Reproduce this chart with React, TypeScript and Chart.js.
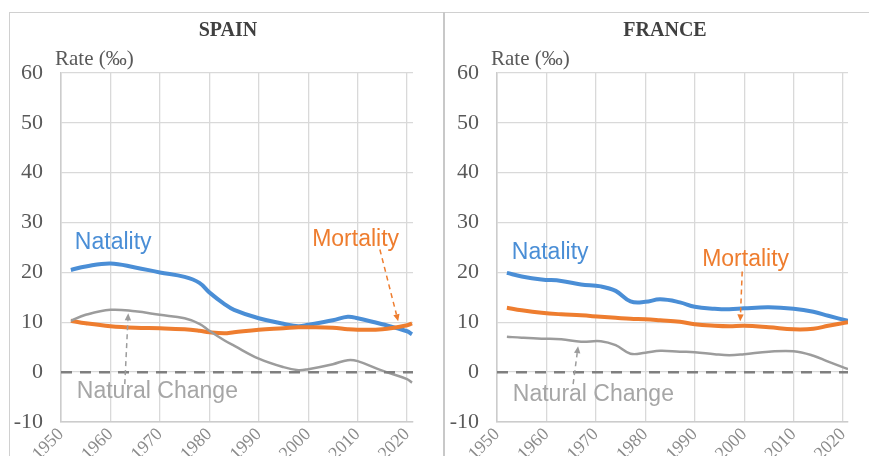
import React, { useEffect, useRef } from 'react';
import { Chart, registerables } from 'chart.js';

Chart.register(...registerables);

// ---------- DATA ----------
const xTickYears = [1950, 1960, 1970, 1980, 1990, 2000, 2010, 2020];
const yTickValues = [-10, 0, 10, 20, 30, 40, 50, 60];

const spainYears = [1952, 1955, 1960, 1965, 1970, 1975, 1978, 1980, 1983, 1985, 1990, 1995, 1998, 2000, 2005, 2008, 2010, 2015, 2020, 2021];
const spainNatality = [20.5, 21.2, 21.8, 21.0, 20.0, 19.1, 17.9, 16.0, 13.7, 12.5, 10.8, 9.7, 9.2, 9.5, 10.4, 11.1, 10.8, 9.6, 8.2, 7.6];
const spainMortality = [10.3, 9.8, 9.2, 8.9, 8.8, 8.6, 8.3, 8.0, 7.8, 8.0, 8.5, 8.8, 9.0, 9.0, 8.9, 8.6, 8.5, 8.6, 9.4, 9.8];
const spainNaturalChange = [10.3, 11.5, 12.5, 12.2, 11.5, 10.8, 9.7, 8.3, 6.4, 5.3, 2.7, 1.0, 0.4, 0.6, 1.6, 2.4, 2.2, 0.3, -1.4, -2.1];

const franceYears = [1952, 1955, 1959, 1963, 1967, 1971, 1974, 1977, 1980, 1983, 1987, 1990, 1994, 1997, 2000, 2005, 2010, 2014, 2017, 2021];
const franceNatality = [19.9, 19.2, 18.6, 18.3, 17.6, 17.2, 16.3, 14.2, 14.1, 14.6, 14.0, 13.1, 12.7, 12.6, 12.8, 13.0, 12.7, 12.1, 11.3, 10.3];
const franceMortality = [12.9, 12.4, 11.9, 11.6, 11.4, 11.1, 10.9, 10.7, 10.6, 10.4, 10.1, 9.6, 9.3, 9.2, 9.3, 9.0, 8.6, 8.7, 9.3, 10.0];
const franceNaturalChange = [7.1, 6.9, 6.7, 6.6, 6.1, 6.2, 5.4, 3.7, 3.9, 4.3, 4.1, 4.0, 3.6, 3.4, 3.6, 4.1, 4.2, 3.3, 2.1, 0.6];

const seriesNames = ['Natality', 'Mortality', 'Natural Change'];

// ---------- STYLE ----------
const BLUE = '#4a8ed6';
const ORANGE = '#ee7d2f';
const GRAY = '#9c9c9c';
const GRAY_TEXT = '#a6a6a6';
const SERIF = '"Liberation Serif", "Times New Roman", serif';
const SANS = '"Liberation Sans", Arial, sans-serif';

type Label = { text: string; x: number; y: number; color: string };
type Arrow = { from: [number, number]; to: [number, number]; color: string };

const decorPlugin = {
  id: 'panelDecor',
  afterDatasetsDraw(chart: any, _args: any, opts: any) {
    const { ctx, chartArea } = chart;
    const xs = chart.scales.x;
    const ys = chart.scales.y;
    ctx.save();
    // title
    ctx.font = `bold 20px ${SERIF}`;
    ctx.fillStyle = '#404040';
    ctx.textAlign = 'center';
    ctx.textBaseline = 'alphabetic';
    ctx.fillText(opts.title, opts.titleX, 23);
    // axis caption
    ctx.font = `21px ${SERIF}`;
    ctx.fillStyle = '#595959';
    ctx.textAlign = 'left';
    ctx.fillText('Rate (\u2030)', chartArea.left - 6, 52);
    // arrows
    (opts.arrows as Arrow[]).forEach((a) => {
      const x1 = xs.getPixelForValue(a.from[0]);
      const y1 = ys.getPixelForValue(a.from[1]);
      const x2 = xs.getPixelForValue(a.to[0]);
      const y2 = ys.getPixelForValue(a.to[1]);
      const ang = Math.atan2(y2 - y1, x2 - x1);
      const L = 7;
      const W = 3.2;
      const c = Math.cos(ang);
      const s = Math.sin(ang);
      ctx.strokeStyle = a.color;
      ctx.lineWidth = 1.5;
      ctx.setLineDash([5, 4]);
      ctx.beginPath();
      ctx.moveTo(x1, y1);
      ctx.lineTo(x2 - L * c, y2 - L * s);
      ctx.stroke();
      ctx.setLineDash([]);
      ctx.fillStyle = a.color;
      ctx.beginPath();
      ctx.moveTo(x2, y2);
      ctx.lineTo(x2 - L * c + W * s, y2 - L * s - W * c);
      ctx.lineTo(x2 - L * c - W * s, y2 - L * s + W * c);
      ctx.closePath();
      ctx.fill();
    });
    // labels
    ctx.font = `23px ${SANS}`;
    ctx.textAlign = 'left';
    ctx.textBaseline = 'middle';
    (opts.labels as Label[]).forEach((l) => {
      ctx.fillStyle = l.color;
      ctx.fillText(l.text, xs.getPixelForValue(l.x), ys.getPixelForValue(l.y));
    });
    ctx.restore();
  },
};

type PanelProps = {
  title: string;
  titleX: number;
  years: number[];
  natality: number[];
  mortality: number[];
  natural: number[];
  xMax: number;
  left: number;
  width: number;
  padRight: number;
  labels: Label[];
  arrows: Arrow[];
};

function Panel(p: PanelProps) {
  const ref = useRef<HTMLCanvasElement>(null);
  useEffect(() => {
    if (!ref.current) return;
    const toPts = (arr: number[]) => arr.map((v, i) => ({ x: p.years[i], y: v }));
    const lineDs = (label: string, data: number[], color: string, w: number) => ({
      label,
      data: toPts(data),
      borderColor: color,
      backgroundColor: color,
      borderWidth: w,
      pointRadius: 0,
      tension: 0.4,
      fill: false,
    });
    const chart = new Chart(ref.current, {
      type: 'line',
      data: {
        datasets: [
          {
            label: 'zero',
            data: [{ x: xTickYears[0], y: 0 }, { x: p.xMax, y: 0 }],
            borderColor: '#7f7f7f',
            borderWidth: 2.5,
            borderDash: [11, 8],
            pointRadius: 0,
            fill: false,
          },
          lineDs(seriesNames[2], p.natural, GRAY, 2.5),
          lineDs(seriesNames[1], p.mortality, ORANGE, 4),
          lineDs(seriesNames[0], p.natality, BLUE, 4),
        ],
      },
      options: {
        responsive: false,
        animation: false,
        events: [],
        layout: { padding: { top: 60, right: p.padRight, bottom: 0, left: 0 } },
        plugins: {
          legend: { display: false },
          tooltip: { enabled: false },
          title: { display: false },
          panelDecor: { title: p.title, titleX: p.titleX, labels: p.labels, arrows: p.arrows },
        } as any,
        scales: {
          x: {
            type: 'linear',
            min: xTickYears[0],
            max: p.xMax,
            afterBuildTicks: (s: any) => {
              s.ticks = xTickYears.map((v) => ({ value: v }));
            },
            afterFit: (s: any) => {
              s.height = 34;
            },
            ticks: {
              autoSkip: false,
              includeBounds: false,
              minRotation: 45,
              maxRotation: 45,
              padding: 2,
              color: '#8a8a8a',
              font: { family: SERIF, size: 18 },
              callback: (v: any) => String(v),
            },
            grid: { color: '#d9d9d9', lineWidth: 1.3, drawTicks: false },
            border: { color: '#cccccc', width: 1.5 },
          },
          y: {
            type: 'linear',
            min: yTickValues[0],
            max: yTickValues[yTickValues.length - 1],
            afterBuildTicks: (s: any) => {
              s.ticks = yTickValues.map((v) => ({ value: v }));
            },
            afterFit: (s: any) => {
              s.width = 51;
            },
            ticks: {
              padding: 18,
              color: '#595959',
              font: { family: SERIF, size: 22 },
              callback: (v: any) => String(v),
            },
            grid: { color: '#d9d9d9', lineWidth: 1.3, drawTicks: false },
            border: { color: '#cccccc', width: 1.5 },
          },
        },
      } as any,
      plugins: [decorPlugin],
    });
    return () => chart.destroy();
  }, []);
  return (
    <canvas
      ref={ref}
      width={p.width}
      height={443}
      style={{ position: 'absolute', left: p.left, top: 13, width: p.width, height: 443 }}
    />
  );
}

export default function App() {
  return (
    <div
      style={{
        position: 'fixed',
        left: 0,
        top: 0,
        width: 869,
        height: 456,
        background: '#ffffff',
        overflow: 'hidden',
      }}
    >
      <div
        style={{
          position: 'absolute',
          left: 9,
          top: 12,
          width: 900,
          height: 500,
          border: '1.5px solid #d0d0d0',
        }}
      />
      <div
        style={{ position: 'absolute', left: 443, top: 12, width: 2, height: 450, background: '#c8c8c8' }}
      />
      <Panel
        title="SPAIN"
        titleX={218}
        years={spainYears}
        natality={spainNatality}
        mortality={spainMortality}
        natural={spainNaturalChange}
        xMax={2021.2}
        left={10}
        width={433}
        padRight={30}
        labels={[
          { text: seriesNames[0], x: 1952.8, y: 26.0, color: BLUE },
          { text: seriesNames[1], x: 2000.8, y: 26.6, color: ORANGE },
          { text: seriesNames[2], x: 1953.2, y: -4.0, color: GRAY_TEXT },
        ]}
        arrows={[
          { from: [2014.5, 24.6], to: [2018.2, 10.2], color: ORANGE },
          { from: [1962.9, -2.4], to: [1963.6, 11.8], color: GRAY },
        ]}
      />
      <Panel
        title="FRANCE"
        titleX={219}
        years={franceYears}
        natality={franceNatality}
        mortality={franceMortality}
        natural={franceNaturalChange}
        xMax={2021}
        left={446}
        width={423}
        padRight={21}
        labels={[
          { text: seriesNames[0], x: 1953.0, y: 24.0, color: BLUE },
          { text: seriesNames[1], x: 1991.5, y: 22.6, color: ORANGE },
          { text: seriesNames[2], x: 1953.2, y: -4.6, color: GRAY_TEXT },
        ]}
        arrows={[
          { from: [1999.6, 20.2], to: [1999.2, 10.2], color: ORANGE },
          { from: [1965.4, -2.4], to: [1966.4, 5.2], color: GRAY },
        ]}
      />
    </div>
  );
}
